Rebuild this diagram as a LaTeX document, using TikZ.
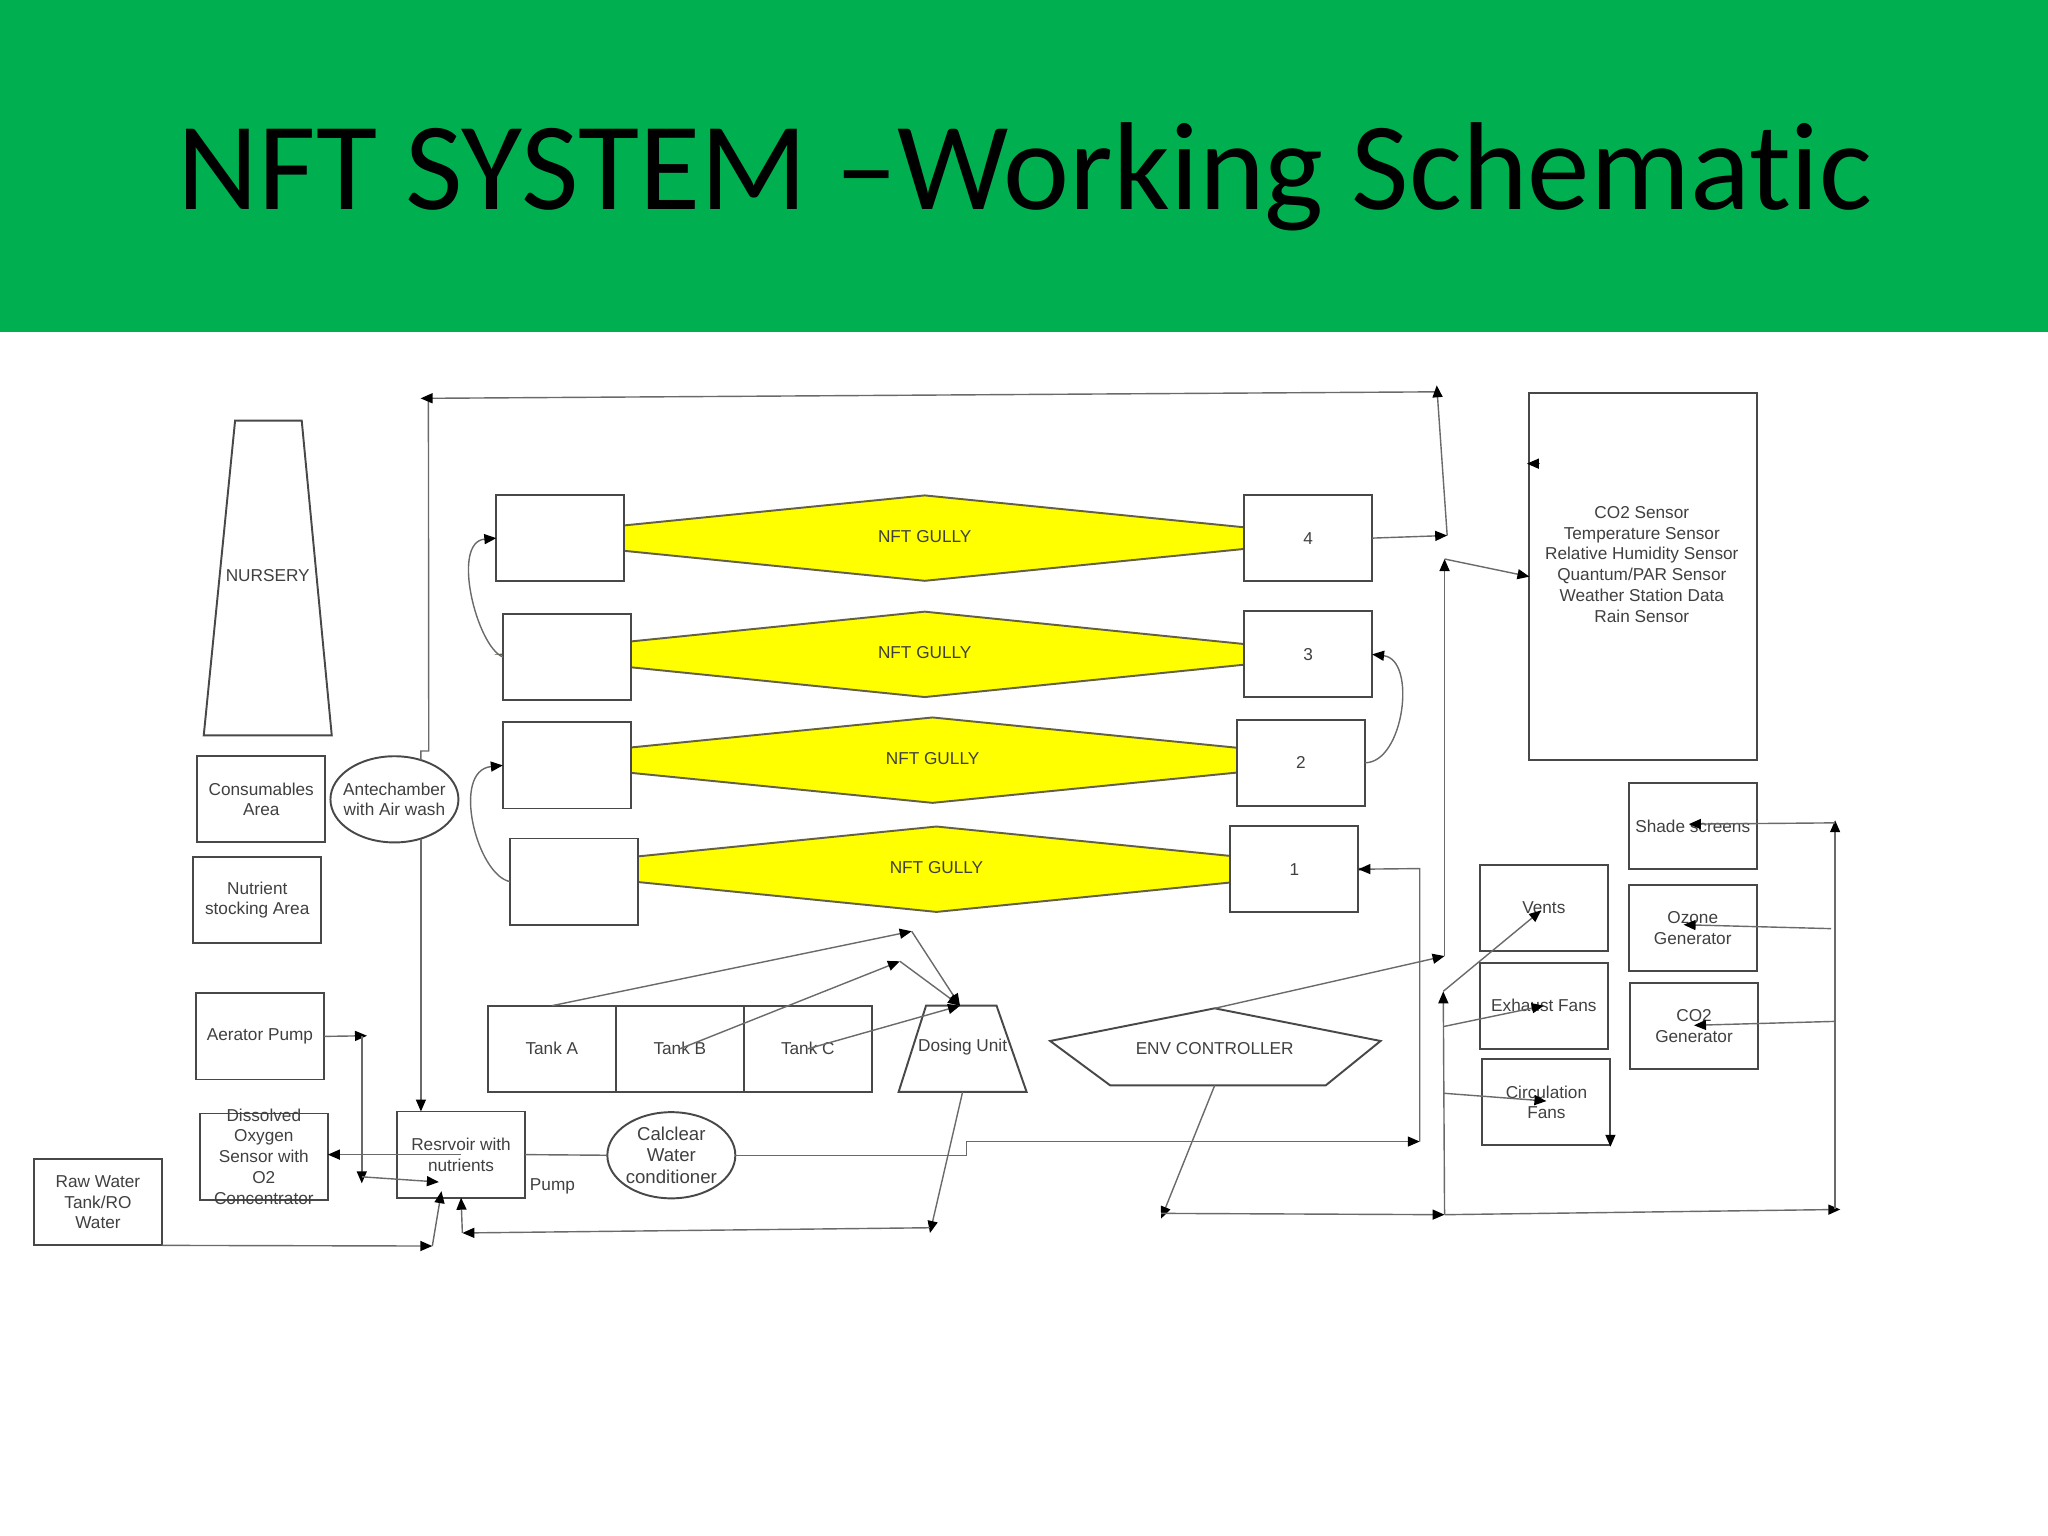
\documentclass[tikz,border=0pt]{standalone}
\usepackage{fontspec}
\setmainfont{Liberation Sans}
\newfontfamily\titlefont[Ligatures=NoCommon]{Carlito}
\usetikzlibrary{arrows.meta,positioning,shapes.geometric}
\definecolor{bannergreen}{HTML}{00B050}
\definecolor{gullyyellow}{HTML}{FFFF00}
\definecolor{edgegray}{HTML}{484848}
\definecolor{wiregray}{HTML}{6A6A6A}
\begin{document}
\begin{tikzpicture}[
    x=0.013061cm,y=-0.013061cm,
    label/.style={font=\fontsize{4.9}{5.9}\selectfont,text=black!75,align=center,inner sep=0pt},
    box/.style={label,draw=edgegray,fill=white,line width=0.55pt,outer sep=0pt,
      minimum width=1.28cm,minimum height=0.862cm},
    oval/.style={box,ellipse,inner sep=-4pt},
    gully/.style={diamond,draw=black!70!yellow,fill=gullyyellow,line width=0.55pt,inner sep=0pt,
      shape aspect=10,minimum height=0.862cm,text depth=1pt,font=\fontsize{4.9}{5.9}\selectfont,text=black!75},
    wire/.style={draw=wiregray,line width=0.4pt},
    arrow/.style={wire,-{Triangle[length=1.2mm,width=1mm,color=black]}}
  ]
    \useasboundingbox (0,0) rectangle (1568,1176);
    \fill[bannergreen] (0,0) rectangle (1568,254);
    \node[font=\titlefont\fontsize{35.6}{42}\selectfont,text=black] (title) at (785,135) {NFT SYSTEM –Working Schematic};

    \node[gully,minimum width=8.567cm] (gullyFour) at (708,412) {NFT GULLY};
    \node[gully,minimum width=8.437cm] (gullyThree) at (708,501) {NFT GULLY};
    \node[gully,minimum width=8.594cm] (gullyTwo) at (714,582) {NFT GULLY};
    \node[gully,minimum width=8.542cm] (gullyOne) at (717,665.5) {NFT GULLY};

    \node[box] (leftFour) at (429,412) {};
    \node[box] (leftThree) at (434,503) {};
    \node[box] (leftTwo) at (434,586) {};
    \node[box] (leftOne) at (439.5,675) {};
    \node[box] (rightFour) at (1001.5,412) {4};
    \node[box] (rightThree) at (1001.5,501) {3};
    \node[box] (rightTwo) at (996,584) {2};
    \node[box] (rightOne) at (991,665.5) {1};

    \draw[box] (180,322) -- (231,322) -- (254,563) -- (156,563) -- cycle;
    \node[label] (nursery) at (205,441) {NURSERY};
    \node[box] (consumables) at (200,612) {Consumables\\Area};
    \node[box,below=0.144cm of consumables,xshift=-0.04cm] (nutrient) {Nutrient\\stocking Area};
    \node[oval] (antechamber) at (302,612) {Antechamber\\with Air wash};
    \node[box] (aerator) at (199,793.5) {Aerator Pump};
    \node[box] (oxygen) at (202,885.5) {};
    \node[label] (oxygenText) at (oxygen) {Dissolved\\Oxygen\\Sensor with\\O2\\Concentrator};
    \node[box] (rawWater) at (75,920.5) {Raw Water\\Tank/RO\\Water};
    \node[box] (resvoir) at (353,884) {Resrvoir with\\nutrients};
    \node[label] (pump) at (423,908) {Pump};
    \node[oval,font=\fontsize{5.3}{6.2}\selectfont] (calclear) at (514,884.5) {Calclear\\Water\\conditioner};

    \node[box] (tankA) at (422.5,803) {Tank A};
    \node[box,right=0pt of tankA] (tankB) {Tank B};
    \node[box,right=0pt of tankB] (tankC) {Tank C};
    \draw[box] (709,770) -- (763,770) -- (786,836) -- (688,836) -- cycle;
    \node[label] (dosing) at (737,802) {Dosing Unit};
    \coordinate (dosingTop) at (735,770);
    \coordinate (dosingBottom) at (737,836);
    \draw[box] (804,797) -- (930,772) -- (1057,797) -- (1015,831) -- (850,831) -- cycle;
    \node[label] (env) at (930,803) {ENV CONTROLLER};
    \coordinate (envTop) at (930,772);
    \coordinate (envBottom) at (930,831);

    \node[box,minimum width=2.273cm,minimum height=3.67cm] (sensors) at (1258,441.5) {};
    \node[label] (sensorText) at (1257,432) {CO2 Sensor\\Temperature Sensor\\Relative Humidity Sensor\\Quantum/PAR Sensor\\Weather Station Data\\Rain Sensor};
    \node[box] (shade) at (1296,632.5) {Shade screens};
    \node[box,below=0.157cm of shade] (ozone) {Ozone\\Generator};
    \node[box,below=0.118cm of ozone,xshift=0.013cm] (coTwo) {CO2\\Generator};
    \node[box] (vents) at (1182,695) {Vents};
    \node[box,below=0.118cm of vents] (exhaust) {Exhaust Fans};
    \node[box,below=0.104cm of exhaust,xshift=0.026cm] (circulation) {Circulation\\Fans};

    \coordinate (topLeft) at (322,305);
    \coordinate (topRight) at (1100,300);
    \coordinate (topTip) at (1100,295);
    \coordinate (joinFour) at (1108,410);
    \coordinate (busUpper) at (1106,428);
    \coordinate (busGap) at (1106,732);
    \coordinate (busLower) at (1105,759);
    \coordinate (busBottom) at (1106,930);
    \coordinate (sideBottom) at (1409,926);
    \coordinate (sideTop) at (1405,628);
    \coordinate (sensorStub) at (1169,355);
    \coordinate (ventsTip) at (1180,697);
    \coordinate (exhaustTip) at (1182,770);
    \coordinate (circulationTip) at (1184,843);
    \coordinate (shadeTip) at (1293,631);
    \coordinate (ozoneTip) at (1289,708);
    \coordinate (coTwoTip) at (1297,785);
    \coordinate (envDrop) at (889,933);
    \coordinate (aeratorTip) at (281,793);
    \coordinate (aeratorDrop) at (277,906);
    \coordinate (resvoirIn) at (336,905);
    \coordinate (rawTip) at (331,954);
    \coordinate (rawUp) at (338,912);
    \coordinate (dosingDrop) at (712,944);
    \coordinate (returnTip) at (354,944);
    \coordinate (tankATip) at (698,713);
    \coordinate (tankBTip) at (689,736);
    \coordinate (feedCorner) at (1087,874);

    \draw[wire] (antechamber.56) -- ++(0,-7) -- ++(6,0) -- (328,305);
    \draw[arrow] (topRight) -- (topLeft);
    \draw[arrow] (joinFour) -- (topTip);
    \draw[arrow] (antechamber.-56) -- (antechamber.-56 |- resvoir.north);
    \draw[arrow] (rightFour.east) -- (joinFour);
    \draw[arrow] (busGap) -- (busUpper);
    \draw[arrow] (busUpper) -- (sensors.west);
    \draw[arrow] (sensors.west |- sensorStub) ++(8,0) -- (sensorStub);
    \draw[arrow] (envTop) -- (busGap);
    \draw[arrow] (envBottom) -- (envDrop);
    \draw[arrow] (889,929) -- (busBottom);
    \draw[arrow] (busBottom) -- (busLower);
    \draw[arrow] (busBottom) -- (sideBottom);
    \draw[arrow] (1405,926) -- (sideTop);
    \draw[arrow] (busLower) -- (ventsTip);
    \draw[arrow] (1105,786) -- (exhaustTip);
    \draw[arrow] (1105,837) -- (circulationTip);
    \draw[arrow] (circulation.south east) ++(0,-4) -- ++(0,5);
    \draw[arrow] (1405,630) -- (shadeTip);
    \draw[arrow] (1402,711) -- (ozoneTip);
    \draw[arrow] (1405,782) -- (coTwoTip);
    \draw[wire] (resvoir.east) -- (calclear.west);
    \draw[arrow] (calclear.east) -- (740,884.5) -- (740,874) -- (feedCorner);
    \draw[arrow] (feedCorner) -- (1087,665) -- (rightOne.east);
    \draw[arrow] (resvoir.center) -- (resvoir.center -| oxygen.east);
    \draw[arrow] (aerator.east) -- (aeratorTip);
    \draw[arrow] (277,793) -- (aeratorDrop);
    \draw[arrow] (277,901) -- (resvoirIn);
    \draw[arrow] (rawWater.south east) -- (rawTip);
    \draw[arrow] (rawTip) -- (rawUp);
    \draw[arrow] (dosingBottom) -- (dosingDrop);
    \draw[arrow] (712,940) -- (returnTip);
    \draw[arrow] (returnTip) -- (resvoir.south);
    \draw[arrow] (tankA.north) -- (tankATip);
    \draw[arrow] (tankATip) -- (dosingTop);
    \draw[arrow] (tankB.center) -- (tankBTip);
    \draw[arrow] (tankBTip) -- (dosingTop);
    \draw[arrow] (tankC.center) -- (dosingTop);
    \draw[arrow] (leftThree.west) .. controls (365,495) and (345,415) .. (leftFour.west);
    \draw[arrow] (leftOne.west) .. controls (365,670) and (345,590) .. (leftTwo.west);
    \draw[arrow] (rightTwo.east) .. controls (1075,584) and (1085,505) .. (rightThree.east);
\end{tikzpicture}
\end{document}
